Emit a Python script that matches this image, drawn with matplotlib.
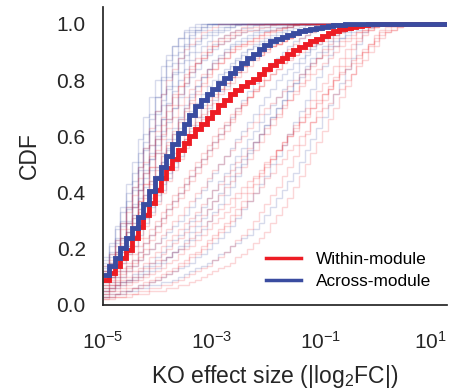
import numpy as np
import matplotlib
matplotlib.use('Agg')
import matplotlib.pyplot as plt
from matplotlib.lines import Line2D

plt.rcParams['font.family'] = ['Liberation Sans', 'DejaVu Sans']
plt.rcParams['mathtext.fontset'] = 'custom'
plt.rcParams['mathtext.rm'] = 'Liberation Sans'
plt.rcParams['mathtext.it'] = 'Liberation Sans:italic'
plt.rcParams['mathtext.default'] = 'regular'

# ***************************** Data *****************************
# cumulative fraction of KO effects per log bin (60 bins, 1e-5 .. ~22)
# values, bin by bin

within_module = [0.088, 0.114, 0.140, 0.166, 0.196, 0.237, 0.278, 0.320, 0.364, 0.408,
                 0.452, 0.488, 0.520, 0.552, 0.577, 0.601, 0.625, 0.645, 0.666, 0.687,
                 0.710, 0.731, 0.749, 0.766, 0.780, 0.792, 0.805, 0.820, 0.838, 0.854,
                 0.867, 0.880, 0.893, 0.906, 0.918, 0.930, 0.939, 0.948, 0.957, 0.966,
                 0.975, 0.981, 0.984, 0.988, 0.992, 0.996, 0.998, 0.999, 1.0, 1.0,
                 1.0, 1.0, 1.0, 1.0, 1.0, 1.0, 1.0, 1.0, 1.0, 1.0]

across_module = [0.106, 0.137, 0.167, 0.201, 0.238, 0.274, 0.313, 0.359, 0.404, 0.450,
                 0.491, 0.531, 0.571, 0.611, 0.644, 0.677, 0.708, 0.728, 0.749, 0.769,
                 0.788, 0.807, 0.825, 0.842, 0.860, 0.877, 0.893, 0.909, 0.926, 0.939,
                 0.946, 0.954, 0.961, 0.968, 0.975, 0.980, 0.983, 0.986, 0.989, 0.992,
                 0.995, 0.997, 0.999, 1.0, 1.0, 1.0, 1.0, 1.0, 1.0, 1.0,
                 1.0, 1.0, 1.0, 1.0, 1.0, 1.0, 1.0, 1.0, 1.0, 1.0]

# single modules: listed up to the bin where the CDF reaches 1
across_single = [
    [.15, .19, .24, .30, .37, .44, .51, .58, .66, .74, .81, .87, .92, .95, .98, .99, 1.0],
    [.12, .15, .19, .24, .30, .36, .43, .50, .57, .64, .71, .77, .83, .88, .92, .95, .97, .98, .99, 1.0],
    [.10, .13, .17, .21, .26, .32, .38, .45, .52, .59, .66, .72, .78, .83, .87, .90, .93, .95, .96, .97,
     .98, .99, .99, .995, 1.0],
    [.14, .18, .23, .29, .35, .42, .49, .56, .62, .68, .73, .78, .82, .86, .89, .92, .94, .96, .97, .98,
     .99, .99, 1.0],
    [.09, .11, .14, .17, .21, .25, .30, .35, .40, .46, .51, .56, .61, .66, .70, .74, .78, .81, .84, .87,
     .89, .91, .93, .94, .95, .96, .97, .98, .98, .99, .99, .99, 1.0],
    [.08, .10, .12, .15, .18, .21, .25, .29, .33, .37, .41, .45, .49, .53, .57, .60, .64, .67, .70, .73,
     .76, .78, .81, .83, .85, .87, .89, .90, .92, .93, .94, .95, .96, .97, .975, .98, .985, .99, .99, .995,
     1.0],
    [.05, .06, .07, .08, .09, .10, .11, .12, .14, .15, .16, .17, .19, .20, .21, .23, .25, .27, .30, .33,
     .36, .39, .42, .46, .50, .54, .58, .61, .64, .67, .70, .73, .76, .79, .81, .84, .86, .88, .90, .92,
     .94, .95, .96, .97, .98, .99, .99, .995, 1.0],
    [.04, .05, .06, .07, .08, .09, .10, .11, .12, .13, .15, .17, .19, .21, .23, .26, .28, .31, .34, .37,
     .40, .43, .46, .49, .52, .55, .58, .61, .64, .67, .70, .73, .76, .79, .82, .85, .88, .90, .92, .94,
     .96, .97, .98, .99, .995, 1.0],
    [.03, .03, .04, .04, .05, .05, .06, .06, .07, .07, .08, .08, .09, .10, .11, .12, .13, .14, .15, .16,
     .18, .19, .21, .22, .24, .25, .27, .29, .32, .35, .38, .41, .44, .47, .51, .55, .59, .63, .67, .71,
     .75, .79, .84, .88, .93, .97, .99, 1.0],
    [.10, .13, .16, .20, .24, .29, .34, .39, .44, .49, .54, .59, .63, .67, .71, .75, .78, .81, .84, .86,
     .88, .90, .92, .93, .94, .95, .96, .97, .975, .98, .985, .99, .99, .995, 1.0],
    [.11, .14, .18, .23, .29, .35, .41, .47, .52, .57, .62, .66, .70, .74, .78, .81, .84, .87, .89, .91,
     .93, .94, .95, .96, .97, .98, .98, .99, .99, 1.0],
    [.06, .07, .08, .10, .12, .14, .16, .18, .20, .22, .24, .26, .28, .30, .32, .35, .38, .41, .44, .47,
     .50, .53, .56, .59, .62, .65, .68, .71, .74, .77, .80, .82, .84, .86, .88, .90, .92, .94, .95, .96,
     .97, .98, .99, .995, 1.0],
    [.17, .22, .28, .35, .43, .51, .59, .67, .74, .80, .85, .89, .92, .95, .97, .98, .99, 1.0],
    [.09, .12, .15, .19, .23, .27, .31, .36, .41, .46, .51, .55, .59, .63, .66, .69, .72, .75, .78, .80,
     .82, .84, .86, .88, .90, .91, .92, .93, .94, .95, .96, .97, .98, .985, .99, .995, 1.0],
    [.13, .17, .22, .28, .34, .41, .48, .55, .62, .69, .75, .81, .86, .90, .93, .96, .98, .99, 1.0],
    [.16, .21, .27, .33, .40, .47, .54, .61, .68, .74, .80, .85, .89, .92, .95, .97, .98, .99, 1.0],
    [.12, .15, .19, .24, .29, .35, .41, .48, .54, .60, .66, .71, .76, .80, .84, .87, .90, .92, .94, .96,
     .97, .98, .99, 1.0],
    [.07, .08, .10, .12, .14, .16, .19, .22, .25, .28, .31, .34, .37, .40, .43, .46, .49, .52, .55, .58,
     .61, .64, .67, .70, .73, .76, .79, .82, .84, .86, .88, .90, .92, .94, .95, .96, .97, .98, .99, 1.0],
    [.05, .06, .07, .08, .09, .11, .12, .14, .15, .17, .19, .21, .23, .25, .27, .30, .32, .35, .38, .41,
     .44, .47, .50, .53, .56, .59, .62, .65, .68, .71, .74, .77, .80, .83, .86, .89, .91, .93, .95, .97,
     .98, .99, 1.0],
    [.03, .04, .04, .05, .05, .06, .07, .07, .08, .09, .10, .11, .12, .13, .14, .15, .17, .18, .20, .22,
     .24, .26, .28, .31, .34, .37, .40, .43, .46, .50, .53, .57, .61, .65, .69, .73, .77, .81, .85, .89,
     .92, .95, .97, .99, 1.0],
    [.11, .14, .17, .21, .26, .31, .36, .42, .48, .54, .60, .65, .70, .75, .79, .83, .86, .89, .91, .93,
     .95, .96, .97, .98, .985, .99, .995, 1.0],
    [.08, .10, .13, .16, .19, .23, .27, .31, .35, .39, .43, .47, .51, .55, .59, .63, .67, .71, .74, .77,
     .80, .83, .85, .87, .89, .91, .93, .94, .95, .96, .97, .98, .99, 1.0],
]

within_single = [
    [.11, .14, .18, .22, .27, .32, .37, .43, .49, .54, .59, .63, .67, .71, .74, .77, .80, .82, .84, .86,
     .88, .90, .91, .92, .93, .94, .95, .96, .97, .975, .98, .985, .99, .995, 1.0],
    [.09, .11, .14, .17, .21, .25, .29, .33, .38, .42, .46, .50, .54, .58, .61, .64, .67, .70, .73, .75,
     .77, .79, .81, .83, .85, .87, .88, .89, .91, .92, .93, .94, .95, .96, .97, .975, .98, .985, .99, .995,
     1.0],
    [.07, .09, .11, .13, .15, .18, .21, .24, .27, .30, .33, .36, .39, .42, .45, .48, .51, .54, .57, .60,
     .63, .65, .68, .70, .72, .74, .76, .78, .80, .82, .84, .86, .87, .89, .90, .91, .92, .93, .94, .95,
     .96, .97, .98, .985, .99, .995, 1.0],
    [.06, .07, .08, .10, .12, .14, .16, .18, .20, .22, .25, .27, .30, .32, .35, .37, .40, .42, .45, .48,
     .50, .53, .55, .58, .60, .63, .65, .68, .70, .72, .74, .76, .78, .80, .82, .84, .86, .88, .89, .91,
     .92, .94, .95, .96, .97, .98, .985, .99, .995, 1.0],
    [.04, .05, .06, .07, .08, .09, .10, .11, .13, .14, .16, .17, .19, .20, .22, .24, .26, .28, .30, .32,
     .34, .36, .38, .40, .42, .44, .46, .48, .51, .53, .55, .58, .60, .63, .65, .68, .70, .73, .75, .78,
     .80, .83, .85, .87, .89, .91, .93, .95, .97, .98, .99, .995, 1.0],
    [.03, .03, .04, .04, .05, .06, .06, .07, .08, .09, .10, .11, .12, .14, .15, .17, .18, .20, .22, .24,
     .26, .28, .30, .32, .35, .37, .40, .42, .45, .47, .50, .52, .55, .57, .60, .62, .65, .67, .70, .72,
     .75, .77, .80, .82, .85, .87, .90, .92, .95, .97, .98, .99, 1.0],
    [.02, .02, .03, .03, .03, .04, .04, .04, .05, .05, .05, .06, .06, .07, .07, .08, .09, .10, .11, .12,
     .13, .14, .15, .17, .18, .20, .22, .24, .26, .29, .32, .35, .38, .42, .46, .50, .54, .58, .62, .66,
     .70, .74, .78, .82, .86, .90, .93, .96, .98, .99, 1.0],
    [.12, .16, .21, .27, .33, .39, .45, .51, .57, .62, .67, .71, .75, .78, .81, .84, .86, .88, .90, .92,
     .93, .94, .95, .96, .97, .975, .98, .985, .99, .995, 1.0],
    [.08, .10, .13, .16, .20, .24, .28, .32, .36, .40, .44, .48, .52, .56, .59, .62, .65, .68, .71, .74,
     .77, .79, .81, .83, .85, .87, .89, .90, .91, .92, .93, .94, .95, .96, .97, .975, .98, .985, .99, .995,
     1.0],
    [.05, .06, .07, .09, .10, .12, .13, .15, .17, .19, .21, .23, .25, .27, .29, .31, .33, .36, .38, .41,
     .43, .46, .48, .51, .53, .56, .58, .61, .63, .66, .68, .71, .73, .75, .78, .80, .82, .84, .86, .88,
     .90, .92, .94, .95, .97, .98, .99, 1.0],
    [.04, .05, .05, .06, .07, .08, .09, .10, .11, .12, .13, .15, .16, .18, .20, .21, .23, .25, .27, .29,
     .31, .33, .35, .38, .40, .42, .45, .47, .50, .52, .55, .57, .60, .62, .65, .67, .70, .72, .75, .77,
     .80, .82, .84, .86, .88, .90, .92, .94, .96, .97, .98, .99, .995, 1.0],
    [.10, .13, .17, .21, .26, .31, .37, .43, .49, .55, .61, .66, .71, .75, .79, .83, .86, .88, .90, .92,
     .94, .95, .96, .97, .98, .985, .99, .995, 1.0],
    [.09, .12, .15, .19, .23, .28, .33, .38, .43, .48, .53, .57, .61, .65, .69, .72, .75, .78, .81, .84,
     .86, .88, .90, .92, .93, .94, .95, .96, .97, .98, .985, .99, .995, 1.0],
    [.07, .08, .10, .12, .14, .16, .19, .22, .25, .28, .31, .34, .37, .40, .43, .46, .49, .52, .55, .58,
     .61, .64, .66, .69, .71, .74, .76, .78, .80, .82, .84, .86, .88, .89, .91, .92, .93, .94, .95, .96,
     .97, .98, .99, 1.0],
    [.12, .15, .19, .24, .29, .35, .41, .47, .53, .59, .64, .69, .74, .78, .82, .85, .88, .90, .92, .94,
     .95, .96, .97, .98, .99, 1.0],
    [.06, .07, .09, .11, .13, .15, .17, .20, .23, .26, .29, .32, .35, .38, .41, .44, .47, .50, .53, .56,
     .59, .62, .65, .68, .71, .74, .77, .80, .83, .85, .87, .89, .91, .93, .95, .96, .97, .98, .99, 1.0],
    [.03, .04, .04, .05, .06, .06, .07, .08, .09, .10, .11, .12, .13, .15, .16, .18, .19, .21, .23, .25,
     .27, .29, .32, .34, .37, .40, .43, .46, .49, .52, .55, .58, .61, .64, .67, .70, .73, .76, .79, .82,
     .85, .88, .91, .93, .95, .97, .98, .99, 1.0],
    [.10, .13, .16, .20, .24, .29, .34, .39, .44, .49, .54, .58, .62, .66, .70, .73, .76, .79, .82, .84,
     .86, .88, .90, .91, .92, .93, .94, .95, .96, .97, .98, .985, .99, .995, 1.0],
    [.05, .06, .07, .08, .09, .10, .12, .13, .15, .16, .18, .20, .22, .24, .26, .28, .30, .32, .34, .37,
     .39, .42, .44, .47, .49, .52, .55, .58, .61, .64, .67, .70, .73, .76, .79, .82, .85, .88, .91, .93,
     .95, .97, .98, .99, 1.0],
    [.14, .18, .23, .29, .35, .42, .49, .56, .63, .69, .75, .80, .84, .88, .91, .93, .95, .97, .98, .99,
     1.0],
    [.02, .03, .03, .03, .04, .04, .05, .05, .06, .06, .07, .07, .08, .09, .10, .11, .12, .13, .14, .16,
     .17, .19, .21, .23, .25, .27, .30, .33, .36, .39, .42, .46, .49, .53, .57, .61, .65, .69, .73, .77,
     .81, .85, .88, .91, .94, .96, .98, .99, 1.0],
    [.08, .10, .12, .15, .18, .21, .24, .28, .32, .36, .40, .44, .48, .52, .56, .60, .63, .66, .69, .72,
     .75, .77, .79, .81, .83, .85, .87, .89, .90, .92, .93, .94, .95, .96, .97, .98, .99, 1.0],
]

red = '#ED1C24'
blue = '#3A4CA0'

bin_edges = np.logspace(-5, 1.34, 61)
n_bins = len(bin_edges) - 1

fig = plt.figure(figsize=(4.57, 3.91), dpi=100)
ax = fig.add_axes([0.2254, 0.22, 0.7526, 0.762])
ax.set_xscale('log')

# once a module's CDF reaches 1 it stays there
for vals in across_single:
    ax.stairs(vals + [1.0] * (n_bins - len(vals)), bin_edges, baseline=None,
              color=blue, alpha=0.2, lw=1.0)
for vals in within_single:
    ax.stairs(vals + [1.0] * (n_bins - len(vals)), bin_edges, baseline=None,
              color=red, alpha=0.18, lw=1.0)

ax.stairs(within_module, bin_edges, baseline=None, color=red, lw=3.5)
ax.stairs(across_module, bin_edges, baseline=None, color=blue, lw=3.5)

ax.set_xlim(1e-5, 10 ** 1.31)
ax.set_ylim(0, 1.06)
ax.set_xticks([1e-5, 1e-3, 1e-1, 1e1])
ax.minorticks_off()
ax.set_yticks([0.0, 0.2, 0.4, 0.6, 0.8, 1.0])
ax.tick_params(axis='y', length=0, pad=12.5, labelsize=15, colors='.15')
ax.tick_params(axis='x', length=0, pad=19, labelsize=15, colors='.15')

for side in ['top', 'right']:
    ax.spines[side].set_visible(False)
for side in ['left', 'bottom']:
    ax.spines[side].set_color('.15')
    ax.spines[side].set_linewidth(1.25)

ax.set_xlabel('KO effect size (|log$_2$FC|)', fontsize=16.5, color='.15', labelpad=7)
ax.set_ylabel('CDF', fontsize=16.5, color='.15', labelpad=11)

handles = [Line2D([], [], color=red, lw=2.5), Line2D([], [], color=blue, lw=2.5)]
ax.legend(handles, ['Within-module', 'Across-module'], loc='lower right',
          frameon=False, fontsize=12.4, handlelength=2.0, handletextpad=0.9,
          labelspacing=0.45)

fig.savefig('out.png', dpi=100)
